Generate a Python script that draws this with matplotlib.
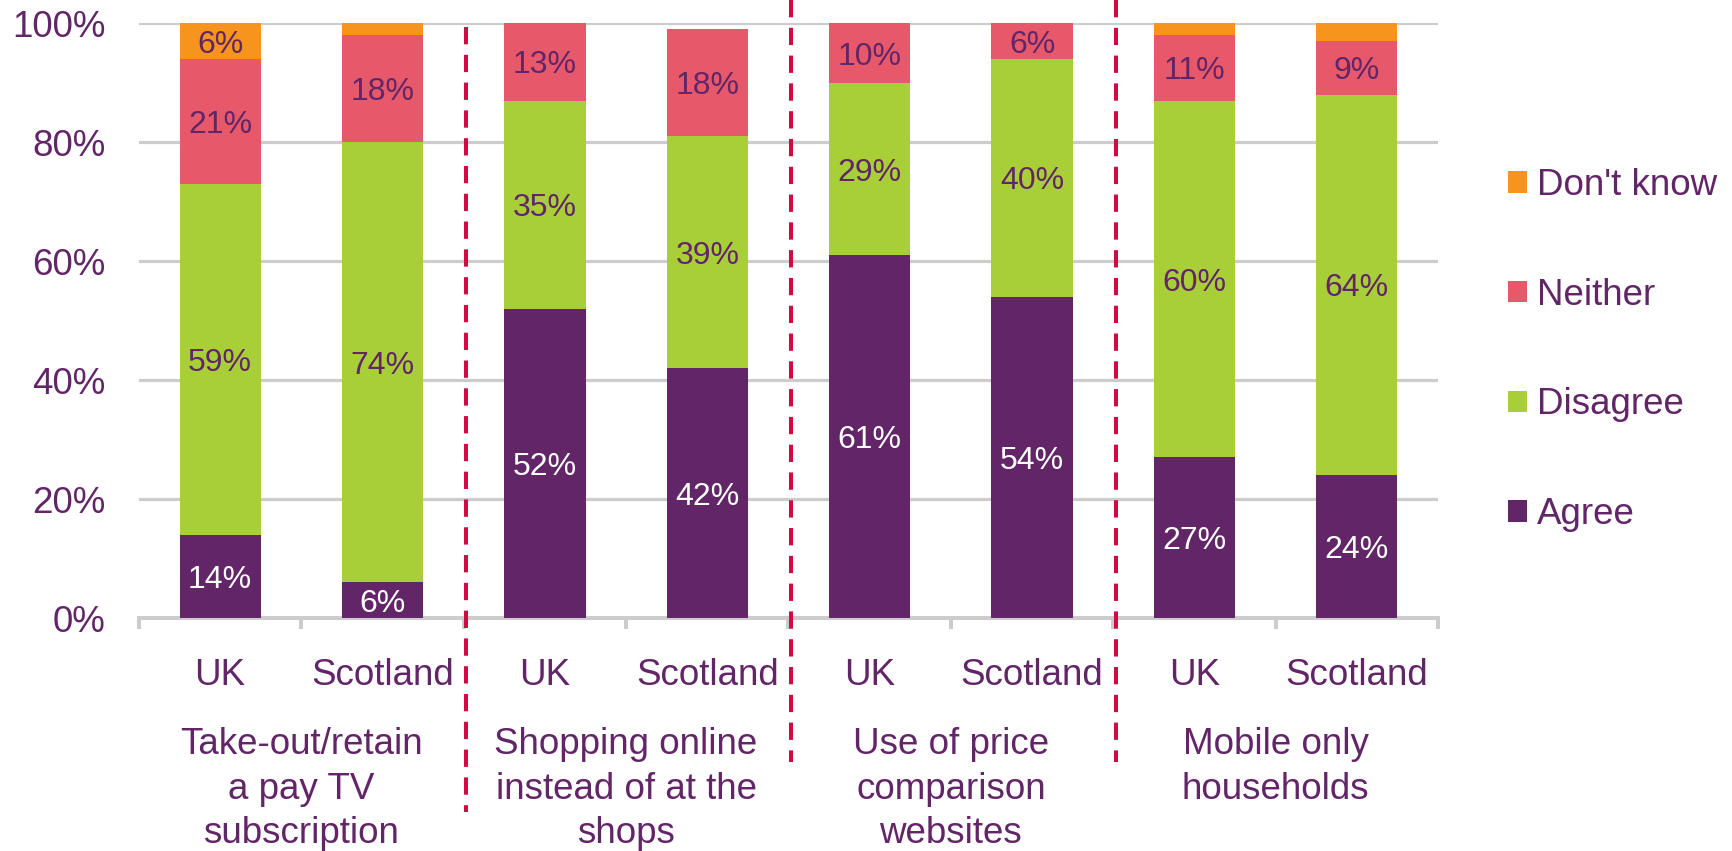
import matplotlib
matplotlib.use("Agg")
import matplotlib.pyplot as plt
import matplotlib.transforms as mtransforms
import numpy as np

plt.rcParams["font.family"] = ["Liberation Sans", "DejaVu Sans"]

# Survey results (% of respondents) by nation, within each topic
groups = [
    "Take-out/retain\na pay TV\nsubscription",
    "Shopping online\ninstead of at the\nshops",
    "Use of price\ncomparison\nwebsites",
    "Mobile only\nhouseholds",
]
regions = ["UK", "Scotland", "UK", "Scotland", "UK", "Scotland", "UK", "Scotland"]
agree = [14, 6, 52, 42, 61, 54, 27, 24]
disagree = [59, 74, 35, 39, 29, 40, 60, 64]
neither = [21, 18, 13, 18, 10, 6, 11, 9]
dont_know = [6, 2, 0, 0, 0, 0, 2, 3]
yticks = [0, 20, 40, 60, 80, 100]

PURPLE = "#622567"
GREEN = "#a9cf38"
PINK = "#e6586a"
ORANGE = "#f7941d"
RED = "#d10a44"
GREY = "#cccccc"

W, H = 1733, 851
fig = plt.figure(figsize=(W / 100, H / 100), dpi=100)
ax = fig.add_axes([139 / W, 1 - 618 / H, (1438 - 139) / W, (618 - 23.3) / H])

x = np.arange(len(regions))
series = [
    ("Agree", agree, PURPLE, "white"),
    ("Disagree", disagree, GREEN, PURPLE),
    ("Neither", neither, PINK, PURPLE),
    ("Don't know", dont_know, ORANGE, PURPLE),
]

bottom = np.zeros(len(regions))
handles = []
for name, vals, color, tcolor in series:
    vals = np.array(vals, dtype=float)
    bars = ax.bar(x, vals, width=0.5, bottom=bottom, color=color,
                  label=name, zorder=3, linewidth=0)
    handles.append(bars)
    for xi, b, v in zip(x, bottom, vals):
        if v >= 5:
            ax.text(xi, b + v / 2, f"{v:.0f}%", ha="center",
                    va="center_baseline", fontsize=23, color=tcolor, zorder=4)
    bottom += vals

ax.set_xlim(-0.5, len(regions) - 0.5)
ax.set_ylim(0, 100)

# y axis: percentage labels, light horizontal grid
ax.set_yticks(yticks)
ax.set_yticklabels([f"{t}%" for t in yticks])
ax.tick_params(axis="y", length=0, pad=24, labelsize=26.5, labelcolor=PURPLE)
ax.yaxis.grid(True, color=GREY, linewidth=2.3)
ax.set_axisbelow(True)

# x axis: nation labels with boundary tick marks
ax.set_xticks(x)
ax.set_xticklabels(regions)
ax.set_xticks(np.arange(-0.5, len(regions), 1.0), minor=True)
ax.tick_params(axis="x", which="major", length=0, pad=28.5, labelsize=26.5,
               labelcolor=PURPLE)
ax.tick_params(axis="x", which="minor", length=8, width=2.9, color=GREY,
               direction="out")

for side in ["left", "right", "top"]:
    ax.spines[side].set_visible(False)
ax.spines["bottom"].set_color(GREY)
ax.spines["bottom"].set_linewidth(2.9)

# topic labels under each pair of bars
blend = mtransforms.blended_transform_factory(ax.transData, fig.transFigure)
for gi, label in enumerate(groups):
    ax.text(2 * gi + 0.5, 1 - 727 / H, label, transform=blend, ha="center",
            va="top", fontsize=26.5, color=PURPLE, linespacing=1.36,
            clip_on=False)

# dashed separators between topics
sep_spans = [(27, 812), (0, 762), (0, 762)]
for si, (top_px, bot_px) in enumerate(sep_spans):
    xs = 2 * si + 1.5 + 0.015
    ax.plot([xs, xs], [1 - top_px / H, 1 - bot_px / H], transform=blend,
            color=RED, linewidth=2.9, dashes=(4.3, 2.6), clip_on=False,
            zorder=5)

leg = ax.legend(handles[::-1], [s[0] for s in series][::-1],
                loc="center left", bbox_to_anchor=(1508 / W, 1 - 350 / H),
                bbox_transform=fig.transFigure, frameon=False, fontsize=26.5,
                handlelength=0.52, handleheight=0.52, handletextpad=0.27,
                labelspacing=2.03, borderpad=0, borderaxespad=0)
for t in leg.get_texts():
    t.set_color(PURPLE)

fig.savefig("out.png", dpi=100)
